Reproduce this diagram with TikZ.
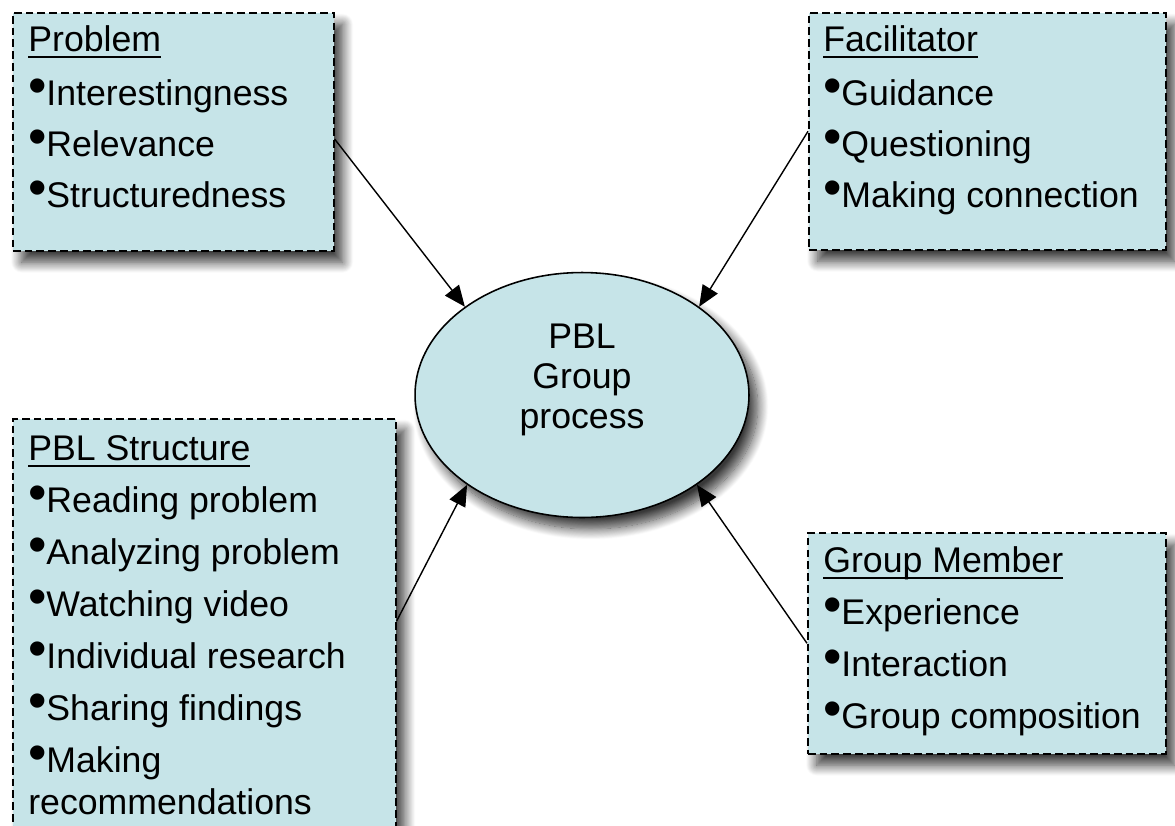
\documentclass[tikz,border=0pt]{standalone}
\usepackage{fontspec}
\setmainfont{Liberation Sans}
\usetikzlibrary{arrows.meta,shapes.geometric,shadows.blur,calc}
\definecolor{boxfill}{RGB}{198,228,232}
% raised bullet and a heading underline
\newcommand\bul{\raisebox{0.9pt}{\fontsize{30}{30}\selectfont •}\kern-0.2pt}
\newcommand\undl[1]{\setbox0=\hbox{#1}\rlap{\rule[-4pt]{\wd0}{1.1pt}}\box0}
\begin{document}
\begin{tikzpicture}[x=0.02cm,y=-0.02cm,
  txt/.style={font=\fontsize{20.3}{24}\selectfont, anchor=base west, inner sep=0pt},
  ctxt/.style={font=\fontsize{20.3}{24}\selectfont, anchor=base, inner sep=0pt},
  softshadow/.style={blur shadow={shadow xshift=5pt, shadow yshift=-6.5pt,
      shadow blur radius=6pt, shadow blur steps=14, shadow opacity=78}},
  panel/.style={rectangle, draw, dash pattern=on 4.4pt off 2.3pt, line width=0.95pt,
      fill=boxfill, inner sep=0pt, anchor=north west, softshadow},
  hub/.style={ellipse, draw, line width=0.9pt, fill=boxfill, inner sep=0pt,
      minimum width=6.68cm, minimum height=4.9cm, softshadow},
  link/.style={-{Triangle[length=12pt,width=10pt]}, line width=0.8pt}]

\useasboundingbox (0,0) rectangle (1175,825);
\clip (0,0) rectangle (1175,825);

% panels
\node[panel, minimum width=6.42cm, minimum height=4.76cm] (prob) at (12,12) {};
\node[panel, minimum width=7.14cm, minimum height=4.74cm] (fac) at (808,12) {};
\node[panel, minimum width=7.16cm, minimum height=4.42cm] (gm) at (807,532) {};
\node[panel, minimum width=7.66cm, minimum height=8.8cm] (pbl) at (12,418) {};

% central ellipse
\node[hub] (hub) at (582,395) {};
\node[ctxt] (hub1) at (582,348) {PBL};
\node[ctxt] (hub2) at (582,388) {Group};
\node[ctxt] (hub3) at (582,428) {process};

% Problem
\node[txt] (prob0) at (28,51) {\undl{Problem}};
\node[txt] (prob1) at (28,105) {\bul Interestingness};
\node[txt] (prob2) at (28,156) {\bul Relevance};
\node[txt] (prob3) at (28,207) {\bul Structuredness};

% Facilitator
\node[txt] (fac0) at (823,51) {\undl{Facilitator}};
\node[txt] (fac1) at (823,105) {\bul Guidance};
\node[txt] (fac2) at (823,156) {\bul Questioning};
\node[txt] (fac3) at (823,207) {\bul Making connection};

% Group Member
\node[txt] (gm0) at (823,572) {\undl{Group Member}};
\node[txt] (gm1) at (823,624) {\bul Experience};
\node[txt] (gm2) at (823,676) {\bul Interaction};
\node[txt] (gm3) at (823,728) {\bul Group composition};

% PBL Structure
\node[txt] (pbl0) at (28,460) {\undl{PBL Structure}};
\node[txt] (pbl1) at (28,512) {\bul Reading problem};
\node[txt] (pbl2) at (28,564) {\bul Analyzing problem};
\node[txt] (pbl3) at (28,616) {\bul Watching video};
\node[txt] (pbl4) at (28,668) {\bul Individual research};
\node[txt] (pbl5) at (28,720) {\bul Sharing findings};
\node[txt] (pbl6) at (28,772) {\bul Making};
\node[txt] (pbl7) at (28,814) {recommendations};

% connectors
\draw[link] ($(prob.north east)!0.53!(prob.south east)$) -- (hub.143.5);
\draw[link] (fac.west) -- (hub.37);
\draw[link] (gm.west) -- (hub.322);
\draw[link] ($(pbl.north east)!0.46!(pbl.south east)$) -- (hub.218.6);
\end{tikzpicture}
\end{document}
